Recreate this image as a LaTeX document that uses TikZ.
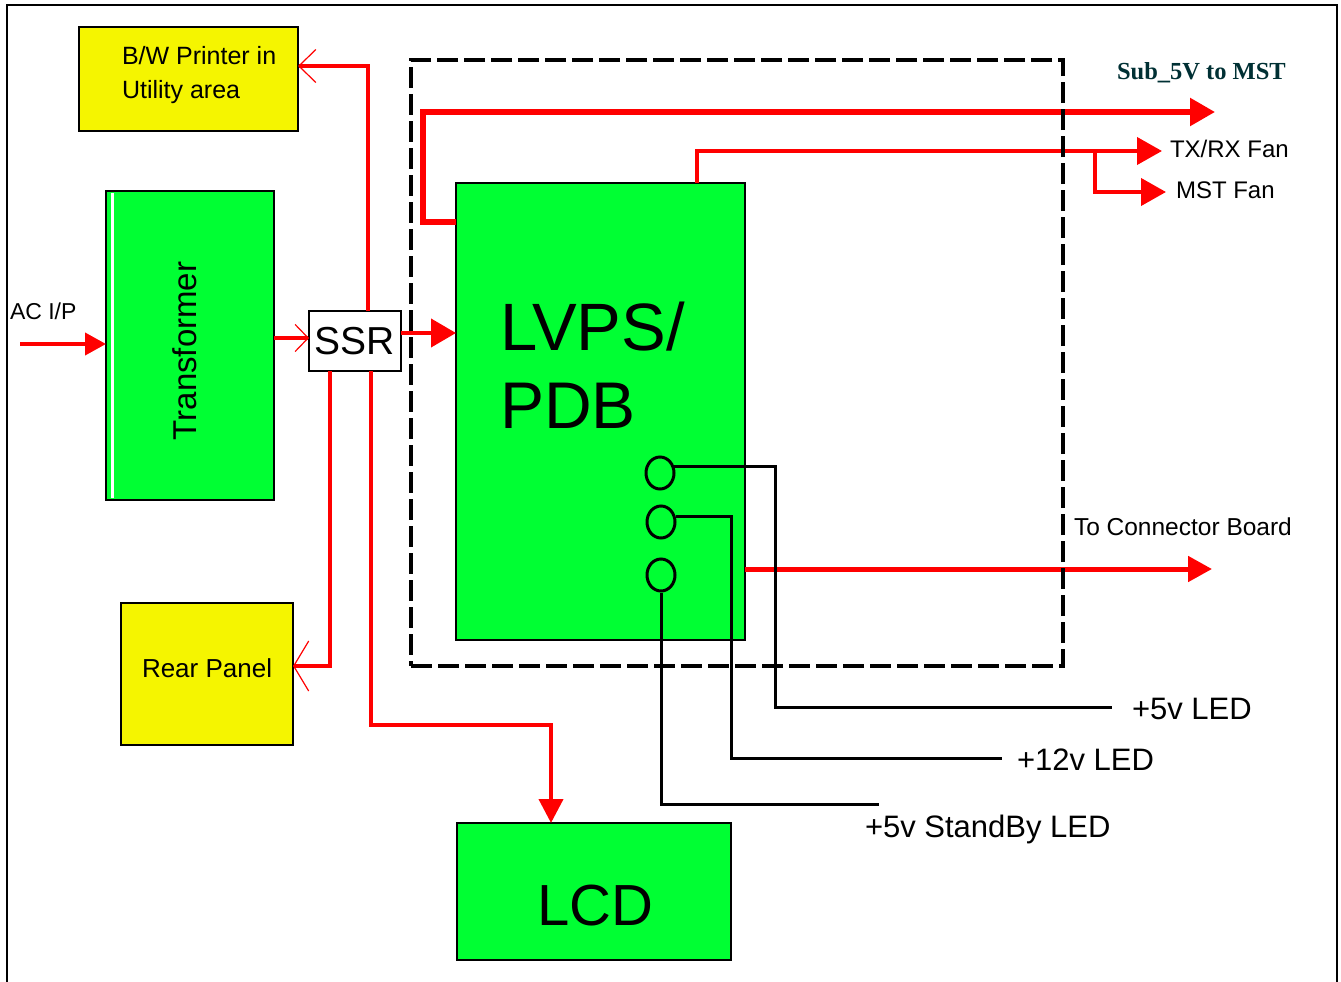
\documentclass[tikz,border=0pt]{standalone}
\usepackage{fontspec}
\setmainfont{Liberation Sans}
\newfontfamily\subserif{Liberation Serif}
\usetikzlibrary{arrows.meta,shapes.geometric}
\definecolor{boxgreen}{RGB}{0,255,51}
\definecolor{boxyellow}{RGB}{245,245,0}
\definecolor{wire}{RGB}{255,0,0}
\definecolor{subteal}{RGB}{0,48,52}
\begin{document}
\begin{tikzpicture}[x=1pt,y=-1pt,
 blk/.style={draw=black,line width=2pt,anchor=north west,inner sep=0pt,outer sep=0pt},
 gbox/.style={blk,fill=boxgreen},
 ybox/.style={blk,fill=boxyellow},
 lbl/.style={anchor=base west,inner sep=0pt,outer sep=0pt,text=black},
 rw/.style={draw=wire,line width=4pt},
 rwt/.style={draw=wire,line width=5pt},
 tip/.style={-{Triangle[length=25pt,width=27pt]}},
 kw/.style={draw=black,line width=3pt},
 led/.style={draw=black,line width=3pt,ellipse,minimum width=28pt,minimum height=32pt,inner sep=0pt},
 zone/.style={draw=black,line width=4pt,dash pattern=on 21pt off 6pt,anchor=north west,inner sep=0pt,outer sep=0pt}
]
\useasboundingbox (0,0) rectangle (1341,982);
\draw[line width=2pt] (7,982) -- (7,5) -- (1337,5) -- (1337,982);

% boxes
\node[ybox,minimum width=219pt,minimum height=104pt] (bw) at (79,27) {};
\node[lbl,font=\fontsize{25}{30}\selectfont] (bwt1) at (122,65) {B/W Printer in};
\node[lbl,font=\fontsize{25}{30}\selectfont] (bwt2) at (122,98) {Utility area};

\node[gbox,minimum width=168pt,minimum height=309pt] (tr) at (106,191) {};
\draw[white,line width=3pt] (112,193) -- (112,498);
\node[rotate=90,inner sep=0pt,font=\fontsize{33}{40}\selectfont] (trt) at (185,351) {Transformer};

\node[blk,fill=white,minimum width=92pt,minimum height=60pt,font=\fontsize{39}{44}\selectfont] (ssr) at (309,311) {SSR};

\node[gbox,minimum width=289pt,minimum height=457pt] (lvps) at (456,183) {};
\node[lbl,font=\fontsize{67}{78}\selectfont] (lv1) at (500,350) {LVPS/};
\node[lbl,font=\fontsize{66}{78}\selectfont] (lv2) at (500,428) {PDB};

\node[led] (c1) at (660,473) {};
\node[led] (c2) at (661,522) {};
\node[led] (c3) at (661,575) {};

\node[gbox,minimum width=274pt,minimum height=137pt] (lcd) at (457,823) {};
\node[lbl,font=\fontsize{58}{64}\selectfont] (lcdt) at (537,925) {LCD};

\node[ybox,minimum width=172pt,minimum height=142pt] (rp) at (121,603) {};
\node[lbl,font=\fontsize{26}{30}\selectfont] (rpt) at (142,677) {Rear Panel};

% red connectors
\coordinate (acin) at (20,344);
\draw[rw,-{Triangle[length=21pt,width=22pt]}] (acin) -- (acin -| tr.west);
\node[lbl,font=\fontsize{23}{28}\selectfont] (act) at (10,319) {AC I/P};

\coordinate (trlink) at (tr.east |- 0,338);
\draw[rw,-{Straight Barb[length=13pt,width=27pt,line width=1.2pt]}] (trlink) -- (trlink -| ssr.west);

\draw[rw,line width=3.5pt,-{Straight Barb[length=17pt,width=33pt,line width=1.2pt]}] ([xshift=13pt]ssr.north) |- ([yshift=13pt]bw.east);
\draw[rw,-{Straight Barb[length=15pt,width=50pt,line width=1.2pt]}] ([xshift=-25pt]ssr.south) |- ([yshift=8pt]rp.east);

\coordinate (lcdturn) at (551,725);
\draw[rw,-{Triangle[length=24pt,width=24pt]}] ([xshift=16pt]ssr.south) |- (lcdturn) -- (lcdturn |- lcd.north);

\coordinate (ssrout) at ([yshift=8pt]ssr.east);
\draw[rw,-{Triangle[length=25pt,width=28pt]}] (ssrout) -- (ssrout -| lvps.west);

\coordinate (subout) at ([yshift=-39pt]lvps.north west);
\coordinate (subend) at (1215,112);
\draw[rwt,line width=5.5pt,tip] (subout) -- ++(-33,0) |- (subend);
\node[lbl,font=\subserif\bfseries\fontsize{24.5}{28}\selectfont,text=subteal] (subt) at (1117,80) {Sub\_5V to MST};

\coordinate (fanout) at ([xshift=241pt]lvps.north west);
\coordinate (txend) at (1162,151);
\coordinate (br) at (1095,151);
\coordinate (mstend) at (1166,192);
\draw[rw,tip] (fanout) |- (txend);
\draw[rw,tip] (br) |- (mstend);
\node[lbl,font=\fontsize{24}{28}\selectfont] (txt) at (1170,157) {TX/RX Fan};
\node[lbl,font=\fontsize{24}{28}\selectfont] (mstt) at (1176,198) {MST Fan};

\coordinate (cbend) at (1212,569);
\draw[rwt,-{Triangle[length=24pt,width=25pt]}] (cbend -| lvps.east) -- (cbend);
\node[lbl,font=\fontsize{24.5}{28}\selectfont] (cbt) at (1074,535) {To Connector Board};

% LED wires
\coordinate (l1bend) at (775,707);
\coordinate (l1end) at (1112,707);
\draw[kw] (c1.25) -| (l1bend) -- (l1end);
\coordinate (l2bend) at (731,758);
\coordinate (l2end) at (1002,758);
\draw[kw] (c2.20) -| (l2bend) -- (l2end);
\coordinate (l3end) at (879,804);
\draw[kw] (c3.south) |- (l3end);
\node[lbl,font=\fontsize{31}{36}\selectfont] (l1t) at (1132,719) {+5v LED};
\node[lbl,font=\fontsize{31}{36}\selectfont] (l2t) at (1017,770) {+12v LED};
\node[lbl,font=\fontsize{31}{36}\selectfont] (l3t) at (865,837) {+5v StandBy LED};

% dashed enclosure
\node[zone,minimum width=652pt,minimum height=606pt] (pdbzone) at (411,60) {};
\end{tikzpicture}
\end{document}
